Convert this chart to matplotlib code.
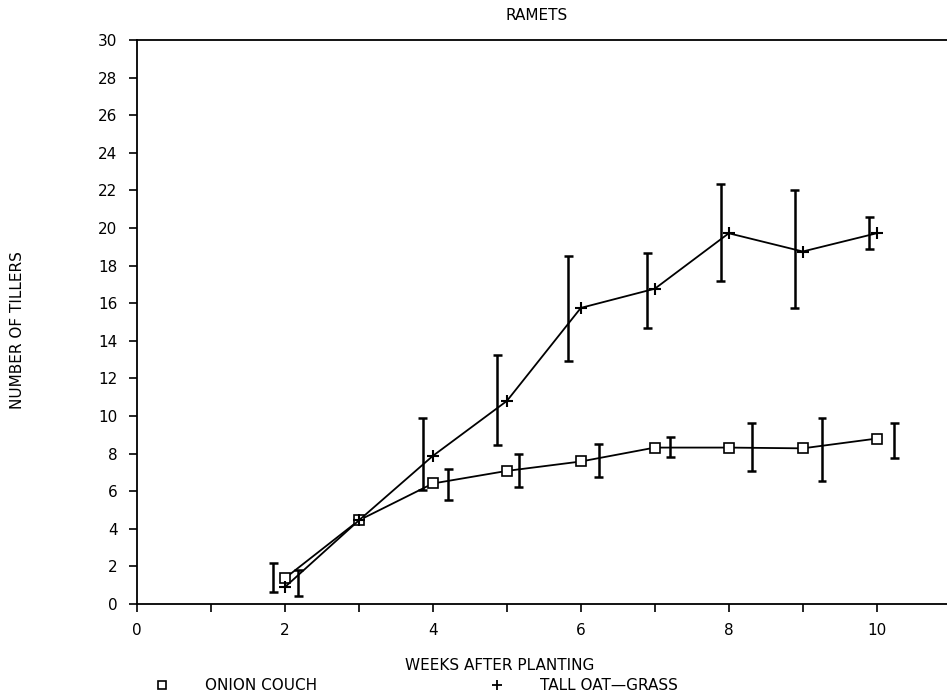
import numpy as np
import matplotlib
matplotlib.use("Agg")
import matplotlib.pyplot as plt
from matplotlib.lines import Line2D

# weeks after planting
weeks = [2, 3, 4, 5, 6, 7, 8, 9, 10]

# onion couch (squares)
onion = [1.37, 4.45, 6.41, 7.08, 7.58, 8.32, 8.32, 8.28, 8.80]
onion_bar_x = [1.84, 4.21, 5.16, 6.24, 7.21, 8.31, 9.26, 10.24]
onion_lo = [0.63, 5.54, 6.20, 6.76, 7.82, 7.08, 6.52, 7.74]
onion_hi = [2.17, 7.17, 7.97, 8.53, 8.89, 9.65, 9.88, 9.65]

# tall oat-grass (plus)
oat = [0.90, 4.45, 7.88, 10.8, 15.75, 16.77, 19.72, 18.75, 19.72]
oat_bar_x = [2.18, 3.86, 4.87, 5.83, 6.90, 7.89, 8.89, 9.90]
oat_lo = [0.40, 6.06, 8.45, 12.95, 14.70, 17.16, 15.75, 18.88]
oat_hi = [1.80, 9.88, 13.22, 18.50, 18.66, 22.32, 22.03, 20.57]

fig = plt.figure(figsize=(9.47, 6.99), dpi=100)
ax = fig.add_axes([137/947, 95/699, 1 - 137/947, 564/699])

ax.plot(weeks, onion, color='black', lw=1.3, marker='s', ms=7,
        mfc='white', mec='black', mew=1.2)
ax.plot(weeks, oat, color='black', lw=1.3, marker='+', ms=8, mew=1.5)

def bars(xs, lo, hi):
    xs = np.array(xs)
    ax.vlines(xs, lo, hi, color='black', lw=1.8)
    ax.hlines(lo, xs - 0.06, xs + 0.06, color='black', lw=1.8)
    ax.hlines(hi, xs - 0.06, xs + 0.06, color='black', lw=1.8)

bars(onion_bar_x, onion_lo, onion_hi)
bars(oat_bar_x, oat_lo, oat_hi)

ax.set_xlim(0, 10.95)
ax.set_ylim(0, 30)
ax.set_xticks(range(0, 11))
ax.set_xticklabels([str(i) if i % 2 == 0 else '' for i in range(0, 11)])
ax.set_yticks(range(0, 31, 2))
ax.tick_params(axis='both', direction='out', length=6, width=1.2,
               labelsize=11, pad=8)
ax.spines['right'].set_visible(False)
for s in ['top', 'left', 'bottom']:
    ax.spines[s].set_linewidth(1.3)

fig.text(537/947, 1 - 15/699, 'RAMETS', ha='center', va='center', fontsize=11)
fig.text(500/947, 1 - 666/699, 'WEEKS AFTER PLANTING', ha='center',
         va='center', fontsize=11)
fig.text(18/947, 1 - 330/699, 'NUMBER OF TILLERS', ha='center',
         va='center', rotation=90, fontsize=11)

# legend row under the axis label
fig.add_artist(Line2D([162/947], [1 - 685/699], marker='s', ms=6, mfc='white',
                      mec='black', mew=1.2, ls='none'))
fig.text(205/947, 1 - 685/699, 'ONION COUCH', ha='left', va='center', fontsize=11)
fig.add_artist(Line2D([497/947], [1 - 685/699], marker='+', ms=7, mec='black',
                      mew=1.3, ls='none'))
fig.text(540/947, 1 - 685/699, 'TALL OAT\u2014GRASS', ha='left', va='center',
         fontsize=11)

fig.savefig('out.png', dpi=100)
